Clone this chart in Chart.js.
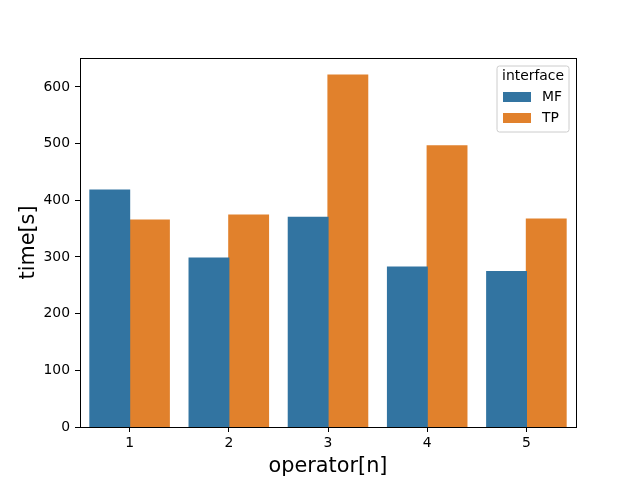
<!DOCTYPE html>
<html>
<head>
<meta charset="utf-8">
<script src="https://cdn.jsdelivr.net/npm/chart.js@4"></script>
<style>html,body{margin:0;padding:0;background:#fff;}canvas{display:block;}</style>
</head>
<body>
<canvas id="c" width="640" height="480"></canvas>
<script>
const categories = ['1', '2', '3', '4', '5'];
const mfValues = [418, 298, 370, 282, 274];
const tpValues = [365, 374, 621, 496, 367];
const yTicks = [0, 100, 200, 300, 400, 500, 600];
const seriesNames = ['MF', 'TP'];
const legendTitle = 'interface';
const colors = ['#3274a1', '#e1812c'];
const FONT = 'DejaVu Sans';

const framePlugin = {
  id: 'frame',
  afterDraw(chart) {
    const {ctx, chartArea: a} = chart;
    ctx.save();
    ctx.strokeStyle = '#000';
    ctx.lineWidth = 1;
    ctx.strokeRect(Math.round(a.left) + 0.5, Math.round(a.top) + 0.5, Math.round(a.right - a.left), Math.round(a.bottom - a.top));
    // legend
    const x0 = 497, y0 = 66, w = 72, h = 66;
    ctx.beginPath();
    const r = 2.5;
    ctx.moveTo(x0 + r, y0);
    ctx.lineTo(x0 + w - r, y0); ctx.quadraticCurveTo(x0 + w, y0, x0 + w, y0 + r);
    ctx.lineTo(x0 + w, y0 + h - r); ctx.quadraticCurveTo(x0 + w, y0 + h, x0 + w - r, y0 + h);
    ctx.lineTo(x0 + r, y0 + h); ctx.quadraticCurveTo(x0, y0 + h, x0, y0 + h - r);
    ctx.lineTo(x0, y0 + r); ctx.quadraticCurveTo(x0, y0, x0 + r, y0);
    ctx.closePath();
    ctx.fillStyle = 'rgba(255,255,255,0.8)';
    ctx.fill();
    ctx.strokeStyle = '#cccccc';
    ctx.lineWidth = 1;
    ctx.stroke();
    ctx.fillStyle = '#000';
    ctx.font = '13.9px "' + FONT + '"';
    ctx.textBaseline = 'middle';
    ctx.textAlign = 'center';
    ctx.fillText(legendTitle, x0 + w / 2, 76.5);
    ctx.textAlign = 'left';
    seriesNames.forEach((n, i) => {
      const yy = 97 + i * 21;
      ctx.fillStyle = colors[i];
      ctx.fillRect(503, yy - 5, 28, 10);
      ctx.fillStyle = '#000';
      ctx.fillText(n, 542, yy);
    });
    ctx.restore();
  }
};

new Chart(document.getElementById('c'), {
  type: 'bar',
  data: {
    labels: categories,
    datasets: [
      { label: seriesNames[0], data: mfValues, backgroundColor: colors[0], borderWidth: 0, inflateAmount: 0.6, categoryPercentage: 0.8, barPercentage: 1.0 },
      { label: seriesNames[1], data: tpValues, backgroundColor: colors[1], borderWidth: 0, inflateAmount: 0.6, categoryPercentage: 0.8, barPercentage: 1.0 }
    ]
  },
  options: {
    responsive: false,
    animation: false,
    devicePixelRatio: 1,
    layout: { padding: { top: 58, right: 64, left: 0, bottom: 0 } },
    plugins: { legend: { display: false }, tooltip: { enabled: false } },
    scales: {
      x: {
        grid: { display: true, drawOnChartArea: false, color: '#000', tickLength: 5, offset: false },
        border: { color: '#000', width: 1 },
        ticks: { color: '#000', font: { family: FONT, size: 13.9 }, padding: 3, maxRotation: 0 },
        title: { display: true, text: 'operator[n]', color: '#000', font: { family: FONT, size: 20.8 }, padding: { top: 0, bottom: 1 } },
        afterFit(s) { s.height = 53; }
      },
      y: {
        min: 0, max: 651,
        grid: { display: true, drawOnChartArea: false, color: '#000', tickLength: 5 },
        border: { color: '#000', width: 1 },
        afterBuildTicks(s) { s.ticks = yTicks.map(v => ({ value: v })); },
        ticks: { color: '#000', font: { family: FONT, size: 13.9 }, padding: 5 },
        title: { display: true, text: 'time[s]', color: '#000', font: { family: FONT, size: 20.8 }, padding: { top: 16, bottom: 0 } },
        afterFit(s) { s.width = 80; }
      }
    }
  },
  plugins: [framePlugin]
});
</script>
</body>
</html>
